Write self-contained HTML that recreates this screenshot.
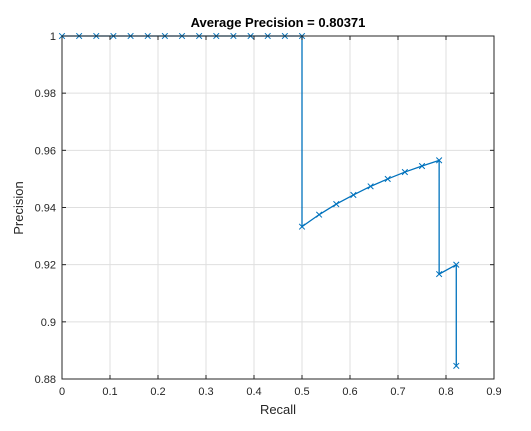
<!DOCTYPE html>
<html><head><meta charset="utf-8"><style>
html,body{margin:0;padding:0;background:#fff;}
svg{display:block;font-family:"Liberation Sans",Arial,sans-serif;}
</style></head><body>
<svg id="chart" width="531" height="431" viewBox="0 0 531 431" xmlns="http://www.w3.org/2000/svg">
<rect x="0" y="0" width="531" height="431" fill="#ffffff"/>
<rect x="62" y="36" width="432" height="343" fill="#ffffff"/>
<g id="grid"></g>
<g id="series"></g>
<rect x="62" y="36" width="432" height="343" fill="none" stroke="#262626" stroke-width="1"/>
<g id="ticks"></g>
<text x="278" y="27" text-anchor="middle" font-size="13" font-weight="bold" fill="#000">Average Precision = 0.80371</text>
<text x="278" y="414" text-anchor="middle" font-size="13" fill="#262626">Recall</text>
<text x="23" y="208" text-anchor="middle" font-size="13" fill="#262626" transform="rotate(-90 23 208)">Precision</text>
</svg>
<script>
const recall = [0,0.0357,0.0714,0.1071,0.1429,0.1786,0.2143,0.25,0.2857,0.3214,0.3571,0.3929,0.4286,0.4643,0.5,0.5,0.5357,0.5714,0.6071,0.6429,0.6786,0.7143,0.75,0.7857,0.7857,0.8214,0.8214];
const precision = [1,1,1,1,1,1,1,1,1,1,1,1,1,1,1,0.9333,0.9375,0.9412,0.9444,0.9474,0.95,0.9524,0.9545,0.9565,0.9167,0.92,0.8846];
const xTicks = [0,0.1,0.2,0.3,0.4,0.5,0.6,0.7,0.8,0.9];
const xTickLabels = ["0","0.1","0.2","0.3","0.4","0.5","0.6","0.7","0.8","0.9"];
const yTicks = [0.88,0.9,0.92,0.94,0.96,0.98,1];
const yTickLabels = ["0.88","0.9","0.92","0.94","0.96","0.98","1"];

const L=62,R=494,T=36,B=379;
const xMin=0,xMax=0.9,yMin=0.88,yMax=1;
const sx=v=>L+(v-xMin)/(xMax-xMin)*(R-L);
const sy=v=>B-(v-yMin)/(yMax-yMin)*(B-T);
const NS="http://www.w3.org/2000/svg";
function mk(tag,attrs,parent){const e=document.createElementNS(NS,tag);for(const k in attrs)e.setAttribute(k,attrs[k]);parent.appendChild(e);return e;}
const grid=document.getElementById('grid'),ticks=document.getElementById('ticks'),series=document.getElementById('series');

xTicks.forEach((v,i)=>{
  const x=sx(v);
  const g=mk('line',{x1:x,x2:x,y1:T,y2:B,stroke:'#dfdfdf','stroke-width':1},grid);
  
  
  const t1=mk('line',{x1:x,x2:x,y1:B,y2:B-4,stroke:'#262626'},ticks);
  
  
  const t2=mk('line',{x1:x,x2:x,y1:T,y2:T+4,stroke:'#262626'},ticks);
  
  
  const tl=mk('text',{x:x,y:B+16,'text-anchor':'middle','font-size':11,fill:'#262626'},ticks);
  tl.textContent=xTickLabels[i];
  
  
});
yTicks.forEach((v,i)=>{
  const y=sy(v);
  const g=mk('line',{x1:L,x2:R,y1:y,y2:y,stroke:'#dfdfdf','stroke-width':1},grid);
  
  
  const t1=mk('line',{x1:L,x2:L+4,y1:y,y2:y,stroke:'#262626'},ticks);
  
  
  const t2=mk('line',{x1:R,x2:R-4,y1:y,y2:y,stroke:'#262626'},ticks);
  
  
  const tl=mk('text',{x:L-6,y:y+4,'text-anchor':'end','font-size':11,fill:'#262626'},ticks);
  tl.textContent=yTickLabels[i];
  
  
});
const pts=recall.map((r,i)=>sx(r).toFixed(2)+','+sy(precision[i]).toFixed(2)).join(' ');
const line=mk('polyline',{points:pts,fill:'none',stroke:'#0072BD','stroke-width':1.3},series);


recall.forEach((r,i)=>{
  const x=sx(r),y=sy(precision[i]),s=2.8;
  const m=mk('path',{d:`M${x-s},${y-s}L${x+s},${y+s}M${x-s},${y+s}L${x+s},${y-s}`,stroke:'#0072BD','stroke-width':1,fill:'none'},series);
  
  
});
</script>
</body></html>
